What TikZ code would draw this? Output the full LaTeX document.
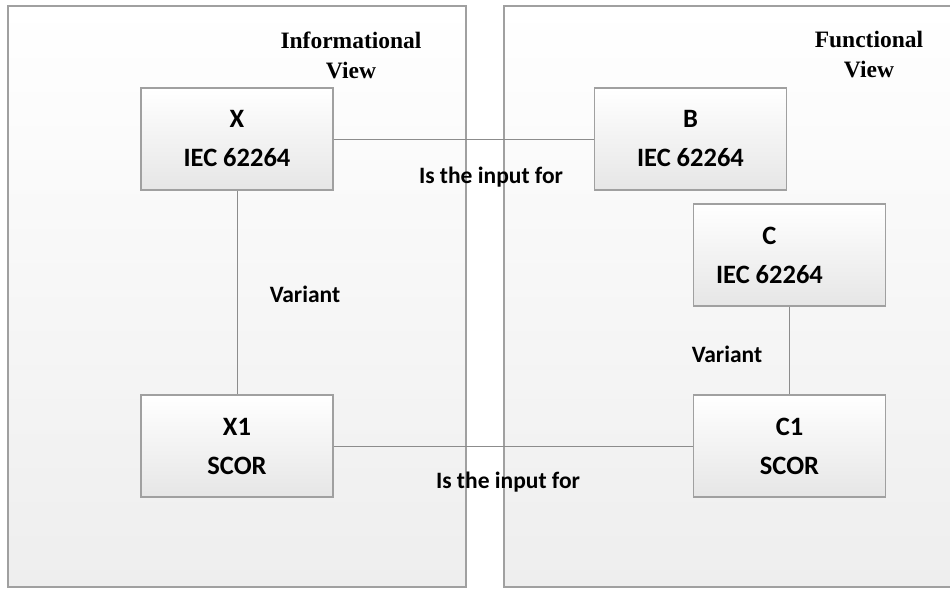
\documentclass[tikz,border=0pt]{standalone}
\usepackage{fontspec}
\setmainfont{Liberation Serif}
\newfontfamily\boxfont{Carlito}
\definecolor{edgegray}{HTML}{A0A0A0}
\definecolor{linegray}{HTML}{8C8C8C}
\definecolor{panelbot}{HTML}{EEEEEE}
\definecolor{boxbot}{HTML}{E6E6E6}
\begin{document}
\begin{tikzpicture}[x=1pt,y=-1pt,
  panel/.style={draw=edgegray,line width=1.4pt,top color=white,bottom color=panelbot},
  item/.style={draw=edgegray,line width=1.3pt,top color=white,bottom color=boxbot,
    minimum width=192pt,minimum height=102pt,align=center,
    font=\boxfont\bfseries\fontsize{26.5}{39}\selectfont,inner sep=0pt},
  rel/.style={draw=linegray,line width=0.9pt},
  rellabel/.style={font=\boxfont\bfseries\fontsize{23.5}{24}\selectfont,inner sep=0pt},
  title/.style={font=\bfseries\fontsize{23.5}{30}\selectfont,align=center,inner sep=0pt}]
\useasboundingbox (0,0) rectangle (950,589);
\begin{scope}
\clip (0,0) rectangle (950,589);
\path[panel] (8,6) rectangle (466,587);
\path[panel] (504,6) rectangle (970,587);
\end{scope}
\node[title] (tinfo) at (351,55) {Informational\\View};
\node[title] (tfunc) at (869,55) {Functional\\View};
\node[item] (X) at (237,139) {X\\IEC 62264};
\node[item] (B) at (690.5,139) {B\\IEC 62264};
\node[item] (C) at (789.5,255) {C\hspace*{40pt}\\IEC 62264\hspace*{40pt}};
\node[item] (X1) at (237,446) {X1\\SCOR};
\node[item] (C1) at (789.5,446) {C1\\SCOR};
\draw[rel] (X.east) -- (B.west);
\draw[rel] (X.south) -- (X1.north);
\draw[rel] (C.south) -- (C1.north);
\draw[rel] (X1.east) -- (C1.west);
\node[rellabel] (l1) at (491,177) {Is the input for};
\node[rellabel] (l2) at (508,482) {Is the input for};
\node[rellabel] (v1) at (305,294) {Variant};
\node[rellabel] (v2) at (727,354) {Variant};
\end{tikzpicture}
\end{document}
